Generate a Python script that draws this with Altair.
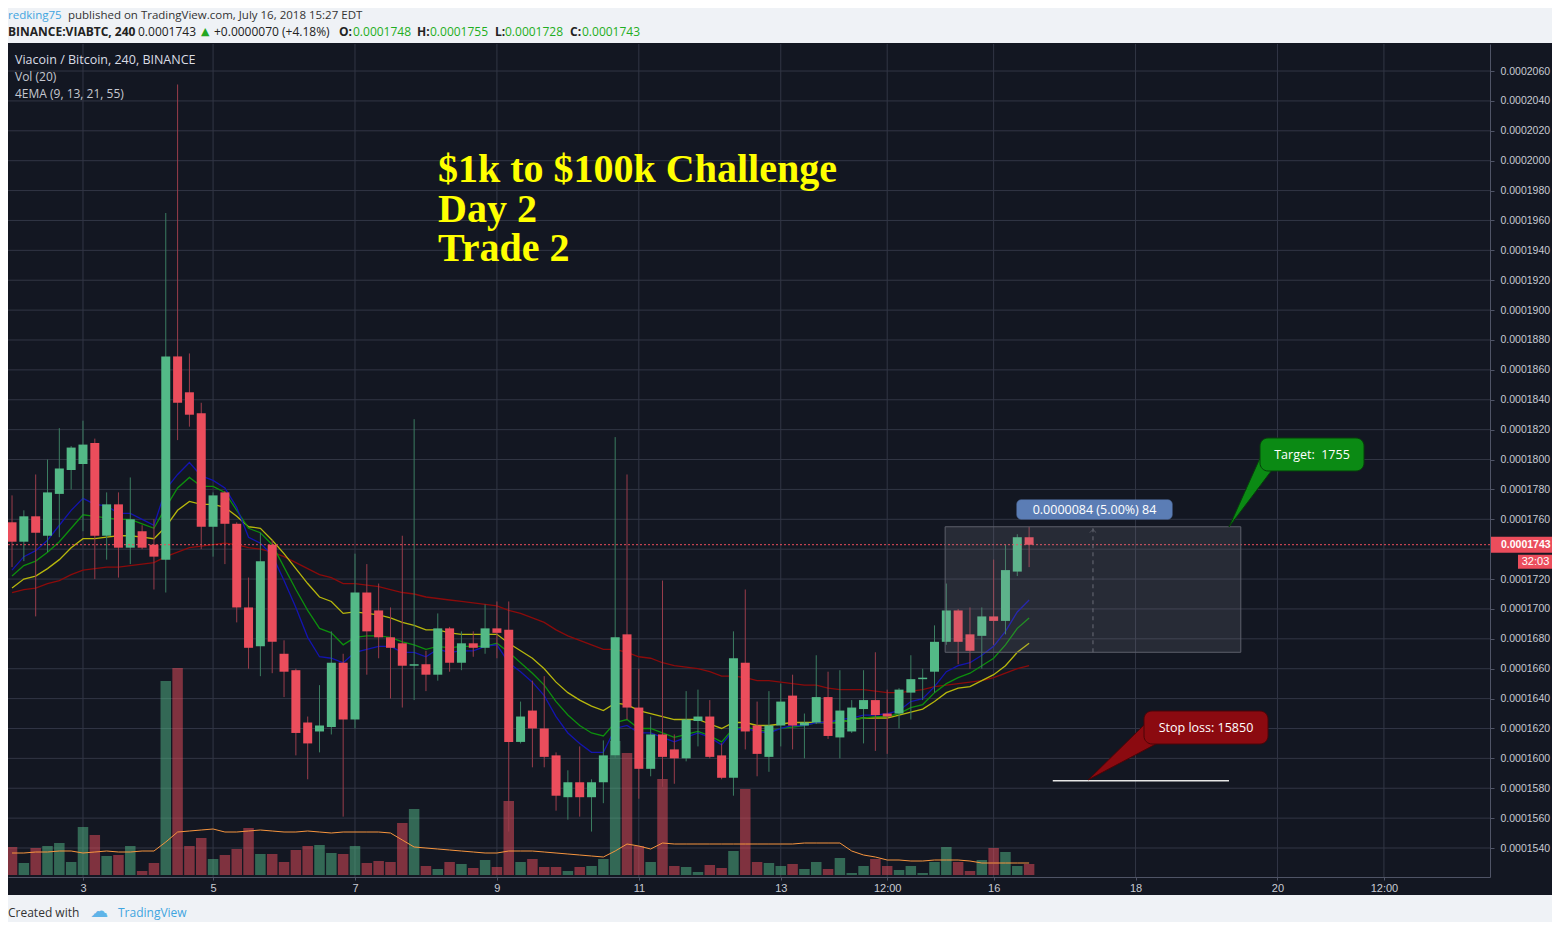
import altair as alt
import pandas as pd

# ---------------- data (prices in units of 1e-7 BTC) ----------------
# 4h bars, bar 0 = 2 Jul 2018 00:00 ... bar 86 = 16 Jul 2018 12:00
OPEN = [1758, 1745, 1762, 1749, 1777, 1793, 1797, 1811, 1749, 1770,
        1741, 1752, 1743, 1733, 1869, 1845, 1831, 1755, 1778, 1757,
        1701, 1675, 1743, 1670, 1659, 1624, 1618, 1621, 1664, 1626,
        1711, 1699, 1681, 1677, 1662, 1663, 1656, 1687, 1664, 1677,
        1674, 1687, 1686, 1611, 1632, 1620, 1602, 1574, 1584, 1574,
        1584, 1602, 1683, 1634, 1593, 1616, 1606, 1600, 1625, 1628,
        1602, 1587, 1664, 1622, 1601, 1622, 1642, 1622, 1624, 1641,
        1614, 1618, 1633, 1639, 1630, 1630, 1644, 1653, 1658, 1678,
        1699, 1683, 1682, 1695, 1692, 1725, 1748]
HIGH = [1776, 1766, 1790, 1800, 1821, 1809, 1826, 1814, 1778, 1778,
        1788, 1756, 1760, 1965, 2051, 1871, 1838, 1778, 1779, 1758,
        1721, 1751, 1746, 1679, 1660, 1628, 1649, 1685, 1670, 1737,
        1730, 1717, 1701, 1749, 1827, 1672, 1697, 1688, 1685, 1685,
        1703, 1705, 1705, 1638, 1652, 1655, 1604, 1592, 1608, 1586,
        1612, 1815, 1790, 1660, 1628, 1719, 1616, 1645, 1646, 1639,
        1610, 1685, 1713, 1638, 1645, 1650, 1656, 1630, 1669, 1658,
        1659, 1639, 1659, 1671, 1646, 1647, 1669, 1660, 1689, 1717,
        1700, 1701, 1701, 1733, 1743, 1750, 1755]
LOW = [1728, 1732, 1695, 1738, 1748, 1780, 1752, 1720, 1733, 1721,
       1730, 1740, 1713, 1711, 1813, 1822, 1740, 1735, 1730, 1691,
       1660, 1655, 1657, 1641, 1602, 1586, 1604, 1616, 1561, 1620,
       1656, 1667, 1640, 1634, 1639, 1645, 1652, 1658, 1659, 1668,
       1670, 1667, 1551, 1610, 1594, 1594, 1565, 1559, 1561, 1551,
       1570, 1600, 1626, 1573, 1588, 1581, 1583, 1598, 1608, 1600,
       1586, 1575, 1606, 1588, 1591, 1608, 1606, 1600, 1623, 1613,
       1600, 1617, 1610, 1605, 1603, 1620, 1626, 1639, 1644, 1676,
       1663, 1660, 1660, 1676, 1683, 1722, 1728]
CLOSE = [1745, 1762, 1751, 1778, 1794, 1808, 1810, 1749, 1770, 1741,
         1760, 1741, 1735, 1869, 1838, 1830, 1755, 1776, 1757, 1701,
         1674, 1732, 1678, 1658, 1617, 1610, 1622, 1664, 1626, 1711,
         1685, 1681, 1674, 1662, 1663, 1656, 1687, 1664, 1677, 1674,
         1687, 1684, 1611, 1628, 1620, 1601, 1575, 1584, 1574, 1584,
         1602, 1681, 1634, 1593, 1616, 1601, 1600, 1626, 1628, 1601,
         1587, 1667, 1618, 1603, 1622, 1638, 1622, 1624, 1641, 1615,
         1632, 1634, 1639, 1629, 1628, 1646, 1653, 1654, 1678, 1699,
         1678, 1672, 1695, 1692, 1726, 1748, 1743]
VOLUME = [28, 12, 27, 29, 32, 13, 48, 40, 19, 20,
          29, 4, 12, 194, 207, 29, 37, 16, 20, 26,
          47, 21, 21, 13, 25, 29, 30, 22, 21, 29,
          12, 14, 13, 52, 66, 9, 6, 13, 11, 7,
          15, 8, 74, 13, 16, 8, 8, 4, 8, 9,
          16, 134, 122, 29, 13, 96, 9, 8, 3, 10,
          7, 24, 86, 13, 12, 9, 11, 6, 13, 6,
          17, 2, 9, 16, 9, 5, 9, 2, 13, 28,
          13, 4, 15, 27, 23, 9, 11]
VOL_MA = [22, 22, 23, 23, 24, 24, 22, 23, 24, 23,
          23, 24, 24, 33, 43, 44, 45, 46, 43, 43,
          44, 45, 44, 43, 43, 44, 43, 42, 43, 43,
          43, 43, 42, 35, 28, 27, 26, 25, 24, 23,
          22, 22, 24, 24, 24, 23, 22, 21, 20, 19,
          18, 24, 31, 29, 26, 32, 31, 31, 31, 31,
          31, 31, 31, 31, 31, 31, 31, 32, 32, 32,
          32, 24, 20, 18, 15, 15, 14, 14, 15, 15,
          15, 14, 12, 12, 12, 12, 12]
EMA9 = [1726, 1735, 1739, 1746, 1756, 1766, 1774, 1770, 1769, 1764,
        1764, 1760, 1756, 1780, 1790, 1798, 1789, 1786, 1781, 1768,
        1748, 1744, 1736, 1719, 1701, 1681, 1668, 1667, 1664, 1671,
        1673, 1675, 1675, 1671, 1671, 1668, 1673, 1671, 1672, 1672,
        1675, 1676, 1664, 1658, 1651, 1642, 1628, 1617, 1610, 1604,
        1604, 1620, 1622, 1617, 1617, 1614, 1611, 1614, 1617, 1614,
        1609, 1619, 1620, 1618, 1617, 1620, 1622, 1622, 1624, 1624,
        1626, 1627, 1629, 1629, 1630, 1632, 1638, 1640, 1648, 1658,
        1662, 1664, 1669, 1675, 1685, 1698, 1706]
EMA13 = [1722, 1729, 1732, 1738, 1745, 1754, 1763, 1762, 1761, 1760,
         1760, 1757, 1754, 1768, 1781, 1788, 1782, 1782, 1778, 1766,
         1754, 1751, 1743, 1728, 1713, 1699, 1687, 1684, 1676, 1681,
         1682, 1682, 1681, 1678, 1676, 1673, 1675, 1674, 1675, 1675,
         1675, 1677, 1671, 1664, 1657, 1649, 1638, 1629, 1622, 1617,
         1615, 1624, 1626, 1620, 1620, 1617, 1614, 1616, 1618, 1615,
         1611, 1620, 1621, 1619, 1618, 1620, 1621, 1622, 1624, 1624,
         1624, 1626, 1627, 1628, 1628, 1630, 1634, 1636, 1644, 1650,
         1654, 1657, 1662, 1667, 1676, 1687, 1694]
EMA21 = [1714, 1720, 1722, 1727, 1733, 1741, 1747, 1747, 1748, 1749,
         1749, 1748, 1747, 1755, 1766, 1772, 1770, 1770, 1768, 1762,
         1755, 1754, 1746, 1737, 1727, 1717, 1708, 1705, 1697, 1698,
         1697, 1696, 1694, 1691, 1689, 1686, 1686, 1684, 1683, 1683,
         1683, 1683, 1677, 1672, 1667, 1660, 1651, 1644, 1639, 1635,
         1632, 1637, 1636, 1632, 1630, 1628, 1626, 1626, 1626, 1623,
         1620, 1624, 1624, 1622, 1622, 1623, 1624, 1624, 1624, 1624,
         1624, 1626, 1627, 1627, 1627, 1629, 1631, 1633, 1638, 1644,
         1647, 1648, 1652, 1656, 1662, 1671, 1677]
EMA55 = [1711, 1713, 1714, 1717, 1719, 1723, 1726, 1727, 1728, 1728,
         1729, 1730, 1731, 1735, 1738, 1741, 1742, 1743, 1744, 1743,
         1741, 1740, 1738, 1735, 1731, 1727, 1723, 1721, 1717, 1717,
         1716, 1715, 1713, 1711, 1710, 1708, 1707, 1706, 1705, 1704,
         1703, 1702, 1699, 1697, 1694, 1691, 1686, 1682, 1679, 1676,
         1673, 1673, 1671, 1668, 1667, 1664, 1662, 1661, 1660, 1658,
         1655, 1655, 1654, 1652, 1652, 1651, 1650, 1649, 1649, 1647,
         1646, 1646, 1646, 1645, 1644, 1644, 1645, 1646, 1648, 1649,
         1650, 1651, 1652, 1654, 1657, 1660, 1662]

# time axis: bar positions of the labels
TICK_BARS = [6, 17, 29, 41, 53, 65, 74, 83, 95, 107, 116]
TICK_LABELS = ["3", "5", "7", "9", "11", "13", "12:00", "16", "18", "20", "12:00"]
# price axis levels (1e-7 units)
PRICE_LEVELS = list(range(1540, 2061, 20))

# drawings
RANGE_START_BAR, RANGE_END_BAR, RANGE_MID_BAR = 78.9, 103.9, 91.4
RANGE_LOW, RANGE_HIGH = 1671, 1755
STOP_START_BAR, STOP_END_BAR, STOP_LEVEL = 88.0, 102.9, 1585
LAST_PRICE = 1743
CAPTION = ["$1k to $100k Challenge", "Day 2", "Trade 2"]

U = 1e-7
n = len(OPEN)
df = pd.DataFrame({
    "bar": list(range(n)),
    "open": [v * U for v in OPEN], "high": [v * U for v in HIGH],
    "low": [v * U for v in LOW], "close": [v * U for v in CLOSE],
    "vol": VOLUME, "volma": VOL_MA,
    "ema9": [v * U for v in EMA9], "ema13": [v * U for v in EMA13],
    "ema21": [v * U for v in EMA21], "ema55": [v * U for v in EMA55],
})
ticks_x = pd.DataFrame({"bar": TICK_BARS})
ticks_y = pd.DataFrame({"price": [v * U for v in PRICE_LEVELS]})
range_df = pd.DataFrame({"b1": [RANGE_START_BAR], "b2": [RANGE_END_BAR], "bm": [RANGE_MID_BAR],
                         "lo": [RANGE_LOW * U], "hi": [RANGE_HIGH * U]})
stop_df = pd.DataFrame({"b1": [STOP_START_BAR], "b2": [STOP_END_BAR], "p": [STOP_LEVEL * U]})
last_df = pd.DataFrame({"p": [LAST_PRICE * U]})
ONE = pd.DataFrame({"k": [0]})

# ---------------- style ----------------
W, H = 1482, 833
BG = "#131722"
PAGE = "#eff2f6"
GRID = "#323645"
AXL = "#4f5466"
LBL = "#c8cbd3"
UP, DOWN = "#53b987", "#eb4d5c"
UPW, DOWNW = "#3b7d61", "#9a3d4b"
FONT = "Open Sans"

xs = alt.Scale(domain=[-0.34, 124.97], nice=False, zero=False, padding=0)
ys = alt.Scale(domain=[1520.6 * U, 2078.1 * U], nice=False, zero=False, padding=0)
vs = alt.Scale(domain=[-2, 831], nice=False, zero=False, padding=0)

label_expr = f"{TICK_LABELS}[indexof({TICK_BARS}, datum.value)]"
# the last-price marker hides the level it sits on
AXIS_LEVELS = [v * U for v in PRICE_LEVELS if abs(v - LAST_PRICE) > 5]
X_AXIS = alt.Axis(values=TICK_BARS, labelExpr=label_expr, grid=False, title=None,
                  domainColor=AXL, tickColor=AXL, tickSize=3, labelColor=LBL,
                  labelFont="Liberation Sans", labelFontSize=11, labelPadding=2,
                  labelOverlap=False, labelFlush=False, zindex=1)
Y_AXIS = alt.Axis(orient="right", values=AXIS_LEVELS, format=".7f",
                  grid=False, title=None, domainColor=AXL, tickColor=AXL, tickSize=4,
                  labelColor=LBL, labelFont="Liberation Sans", labelFontSize=10.5,
                  labelPadding=6, labelOverlap=False, labelFlush=False, zindex=1)

X = lambda f: alt.X(f"{f}:Q", scale=xs, axis=X_AXIS)
Y = lambda f: alt.Y(f"{f}:Q", scale=ys, axis=Y_AXIS)
updown = lambda a, b: alt.condition("datum.close >= datum.open", alt.value(a), alt.value(b))

# background & grid (own y scale, same domain)
bg = alt.Chart(ONE).mark_rect(color=BG).encode(
    x=alt.value(0), x2=alt.value(1544), y=alt.value(-1), y2=alt.value(851))
vgrid = alt.Chart(ticks_x).mark_rule(color=GRID, strokeWidth=1).encode(x=X("bar"))
hgrid = alt.Chart(ticks_y).mark_rule(color=GRID, strokeWidth=1).encode(
    y=alt.Y("price:Q", scale=ys, axis=None))
back = alt.layer(bg, vgrid, hgrid)

# volume pane
vol = alt.Chart(df).mark_bar(size=10.5, opacity=0.5).encode(
    x=X("bar"), y=alt.Y("vol:Q", scale=vs, axis=None), color=updown(UP, DOWN))
volma = alt.Chart(df).mark_line(color="#f7953e", strokeWidth=1).encode(
    x=X("bar"), y=alt.Y("volma:Q", scale=vs, axis=None))
vol_layer = alt.layer(vol, volma)

# price pane
def ema(field, color):
    return alt.Chart(df).mark_line(color=color, strokeWidth=1.3).encode(x=X("bar"), y=Y(field))

wicks = alt.Chart(df).mark_rule(strokeWidth=1).encode(
    x=X("bar"), y=Y("low"), y2="high:Q", color=updown(UPW, DOWNW))
bodies = alt.Chart(df).mark_bar(size=9).encode(
    x=X("bar"), y=Y("open"), y2="close:Q", color=updown(UP, DOWN))

last_line = alt.Chart(last_df).mark_rule(color=DOWN, strokeDash=[2, 2], strokeWidth=1).encode(y=Y("p"))

rng = alt.Chart(range_df).mark_rect(fill="#9598a1", fillOpacity=0.16, stroke="#5d606b",
                                   strokeWidth=1).encode(
    x=X("b1"), x2="b2:Q", y=Y("lo"), y2="hi:Q")
rng_mid = alt.Chart(range_df).mark_rule(color="#6a6d78", strokeDash=[4, 4], strokeWidth=1).encode(
    x=X("bm"), y=Y("lo"), y2="hi:Q")
rng_arrow = alt.Chart(range_df).mark_point(shape="M-1,0.6L0,-0.4L1,0.6", size=40, filled=False,
                                          color="#6a6d78", strokeWidth=1, yOffset=4).encode(
    x=X("bm"), y=Y("hi"))
stop_line = alt.Chart(stop_df).mark_rule(color="#e6e6e6", strokeWidth=1.5).encode(
    x=X("b1"), x2="b2:Q", y=Y("p"))


def txt(text, x, y, size=12, color="#333333", weight="normal", align="left",
        baseline="middle", font=FONT, **kw):
    return alt.Chart(ONE).mark_text(text=text, fontSize=size, color=color, fontWeight=weight,
                                    align=align, baseline=baseline, font=font, **kw).encode(
        x=alt.value(x), y=alt.value(y))


def box(x1, x2, y1, y2, fill, stroke, r=6):
    return alt.Chart(ONE).mark_rect(fill=fill, stroke=stroke, strokeWidth=1, cornerRadius=r).encode(
        x=alt.value(x1), x2=alt.value(x2), y=alt.value(y1), y2=alt.value(y2))


def pointer(path, cx, cy, size, fill, stroke):
    return alt.Chart(ONE).mark_point(shape=path, size=size, filled=True, fill=fill, stroke=stroke,
                                     strokeWidth=1, opacity=1).encode(
        x=alt.value(cx), y=alt.value(cy))


measure_box = box(1009, 1164, 456, 475, "#5b7db5", "#5b7db5", r=4)
measure_txt = txt("0.0000084 (5.00%) 84", 1086.5, 466, size=12.5, color="#ffffff", align="center")

tgt_ptr = pointer("M-0.583,0.972L0.278,-0.944L0.611,-0.611Z", 1242, 448, 5184, "#0b8a14", "#063f0a")
tgt_box = box(1252, 1356, 394, 427, "#0b8a14", "#063f0a", r=8)
tgt_txt = txt("Target:\u00a0\u00a01755", 1304, 411, size=12.5, color="#ffffff", align="center")

sl_ptr = pointer("M-0.944,0.778L0.611,-0.75L0.944,-0.222Z", 1114, 708, 5184, "#8b0a10", "#4a0508")
sl_box = box(1136, 1260, 667, 700, "#8b0a10", "#4a0508", r=8)
sl_txt = txt("Stop loss: 15850", 1198, 684, size=12.5, color="#ffffff", align="center")

# last price marker on the price scale
lp_box = alt.Chart(last_df).mark_point(shape="M-1,-0.254H1V0.254H-1Z", size=3969, filled=True,
                                       color=DOWN, opacity=1).encode(x=alt.value(1513.5), y=Y("p"))
lp_txt = alt.Chart(last_df).mark_text(text="0.0001743", color="#ffffff", fontSize=10.5,
                                      fontWeight="bold", align="left", baseline="middle",
                                      font="Liberation Sans").encode(x=alt.value(1493), y=Y("p"))
cd_box = alt.Chart(last_df).mark_point(shape="M-1,-0.4H1V0.4H-1Z", size=1225, filled=True,
                                       color=DOWN, opacity=1, yOffset=17).encode(
    x=alt.value(1527.5), y=Y("p"))
cd_txt = alt.Chart(last_df).mark_text(text="32:03", color="#ffffff", fontSize=11, align="center",
                                      baseline="middle", font="Liberation Sans", yOffset=17).encode(
    x=alt.value(1527.5), y=Y("p"))

caption = alt.Chart(ONE).mark_text(text=CAPTION, fontSize=40, color="#ffff00", fontWeight="bold",
                                   align="left", baseline="alphabetic", lineHeight=39.5,
                                   font="Liberation Serif").encode(
    x=alt.value(430), y=alt.value(138))

texts = [
    # header
    txt("redking75", 0, -28, size=11.5, color="#3fa5e0"),
    txt("published on TradingView.com, July 16, 2018 15:27 EDT", 60, -28, size=11.5),
    txt("BINANCE:VIABTC, 240", 0, -12, weight="bold", color="#222222"),
    txt("0.0001743", 130, -12, color="#222222"),
    txt("\u25b2", 193, -12, size=11, color="#22a722", font="DejaVu Sans"),
    txt("+0.0000070 (+4.18%)", 206, -12, color="#222222"),
    txt("O:", 331, -12, weight="bold", color="#222222"),
    txt("0.0001748", 345, -12, color="#1fae22"),
    txt("H:", 409, -12, weight="bold", color="#222222"),
    txt("0.0001755", 422, -12, color="#1fae22"),
    txt("L:", 487, -12, weight="bold", color="#222222"),
    txt("0.0001728", 497, -12, color="#1fae22"),
    txt("C:", 562, -12, weight="bold", color="#222222"),
    txt("0.0001743", 574, -12, color="#1fae22"),
    # pane legend
    txt("Viacoin / Bitcoin, 240, BINANCE", 7, 16, size=12.5, color="#dadde5"),
    txt("Vol (20)", 7, 33, color="#c5c8d0"),
    txt("4EMA (9, 13, 21, 55)", 7, 50, color="#c5c8d0"),
    caption,
    # footer
    txt("Created with", 0, 869, color="#333333"),
    txt("\u2601", 82, 868, size=18, color="#5fb4e8", font="DejaVu Sans"),
    txt("TradingView", 110, 869, color="#3fa5e0"),
]

price_layer = alt.layer(
    ema("ema55", "#8b0b0b"), ema("ema21", "#b7b70c"), ema("ema13", "#0d8f0d"), ema("ema9", "#1414b0"),
    wicks, bodies, last_line, rng, rng_mid, rng_arrow, stop_line,
    measure_box, measure_txt, tgt_ptr, tgt_box, tgt_txt, sl_ptr, sl_box, sl_txt,
    lp_box, lp_txt, cd_box, cd_txt, *texts,
)

chart = alt.layer(back, vol_layer, price_layer).resolve_scale(y="independent").properties(
    width=W, height=H,
    padding={"left": 0, "top": 36, "right": 62, "bottom": 45},
    autosize=alt.AutoSizeParams(type="none"),
    background=PAGE,
).configure_view(stroke=None)

chart.save("out.html", embed_options={"renderer": "svg", "actions": False})
